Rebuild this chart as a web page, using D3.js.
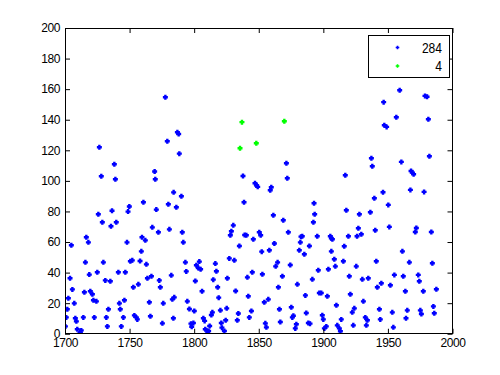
<!DOCTYPE html>
<html>
<head>
<meta charset="utf-8">
<script src="https://cdn.jsdelivr.net/npm/d3@7"></script>
<style>
  body { margin: 0; background: #fff; }
  text { font-family: "Liberation Sans", Arial, sans-serif; }
</style>
</head>
<body>
<div id="chart"></div>
<script>
// blue series (284 in legend)
const blueYear = [
  1726.6,1728.1,1738.2,1739.0,1777.7,1779.2,1769.4,1769.9,1787.0,1788.0,1788.5,
  1784.1,1736.4,1780.0,1748.8,1749.8,1760.7,1725.8,1728.9,1739.7,1735.6,1770.7,1780.8,1767.6,1772.3,1759.6,1762.2,1716.5,1718.1,1704.9,1748.0,1759.1,1750.6,1752.1,1758.1,1729.7,1715.8,1763.0,1703.9,1763.8,1766.9,1718.8,1725.0,1741.3,1746.7,1773.0,1773.8,1782.3,1731.2,1735.1,1705.7,1752.9,1756.8,1719.6,1721.2,1715.0,1722.0,1724.3,1702.6,1707.2,1701.8,1742.1,1742.8,1733.6,1746.0,1765.3,1776.1,1783.1,1784.6,1701.0,1708.0,1708.8,1714.2,1722.7,1732.0,1745.2,1753.7,1756.0,1755.2,1766.1,1783.9,1775.4,1700.3,1732.8,1743.6,1709.5,1712.6,1711.1,1711.9,
  1790.1,1786.2,1790.8,1791.6,1793.2,1793.9,1794.7,1796.3,1800.1,1797.5,1799.4,1798.1,1800.9,1801.7,1804.0,1803.2,1805.0,1806.1,1807.1,1808.1,1808.6,1810.5,1810.2,1812.0,1811.2,1813.3,1814.1,1814.8,1816.4,1817.2,1818.2,1819.0,1820.3,1821.0,1821.5,1823.4,1824.4,1825.2,1825.7,1827.2,1828.8,1828.0,1830.3,1831.1,1832.1,1834.2,1833.4,1835.0,1837.8,1838.6,1839.1,
  1847.1,1848.4,1849.2,1859.7,1858.9,1871.4,1872.1,1861.3,1869.0,1872.9,1882.7,1883.7,1892.8,1893.3,1892.3,1840.4,1845.8,1850.4,1851.5,1862.1,1882.2,1881.4,1885.3,1852.3,1858.2,1864.6,1863.1,1874.4,1845.0,1841.2,1852.8,1868.3,1865.2,1879.9,1891.5,1841.9,1854.3,1857.4,1886.1,1844.3,1842.7,1866.0,1875.2,1876.8,1876.0,1886.8,1855.1,1855.9,1866.7,1879.1,1878.3,1888.4,1889.7,
  1895.3,1889.2,1946.7,1947.2,1937.2,1937.9,1917.0,1946.2,1939.5,1917.8,1927.9,1936.4,1927.1,1926.1,1929.4,1940.2,1905.4,1906.2,1907.0,1919.4,1916.2,1906.2,1908.5,1915.5,1909.3,1903.9,1896.1,1925.5,1941.0,1920.1,1930.2,1934.8,1944.9,1941.8,1896.9,1898.4,1903.1,1920.9,1910.1,1931.0,1924.0,1922.4,1943.4,1899.2,1900.0,1913.9,1932.5,1934.1,1944.1,1902.3,1900.8,1910.8,1912.4,1913.2,1923.2,1933.3,
  1949.0,1959.1,1956.5,1978.7,1980.3,1981.3,1960.4,1967.9,1968.9,1969.9,1982.1,1967.4,1978.0,1950.3,1951.1,1972.0,1971.2,1983.6,1961.2,1966.6,1984.4,1955.0,1961.9,1973.5,1974.3,1951.9,1963.5,1977.4,1987.5,1953.4,1965.0,1975.1,1975.9,1985.2,1985.9,1964.0,1954.2
]
const blueValue = [
  122.0,103.0,110.9,101.1,154.7,125.9,106.1,101.1,131.8,130.7,117.8,
  92.5,80.5,84.7,79.9,83.2,86.0,78.2,72.9,72.9,70.3,81.2,68.3,69.6,66.4,63.1,61.1,63.1,59.8,57.9,59.8,53.9,47.4,48.0,47.6,46.7,46.7,45.4,36.3,36.3,37.6,38.7,40.2,40.2,40.2,34.9,30.4,38.2,34.9,34.3,29.0,30.4,32.3,27.8,25.8,27.1,21.9,21.2,23.2,19.9,16.0,19.9,16.0,16.0,21.9,20.6,19.9,22.5,23.8,10.7,10.1,8.1,10.7,10.7,10.7,10.7,12.0,9.4,10.7,11.4,10.1,6.8,4.8,4.8,4.8,2.9,2.2,0.0,0.9,
  89.9,82.7,66.4,59.8,46.7,40.8,21.2,16.2,14.9,6.6,7.0,4.6,34.5,44.8,47.2,43.0,42.2,27.8,10.1,8.4,2.9,1.4,0.0,5.1,1.8,12.3,14.0,35.4,45.9,40.9,30.4,23.6,15.3,7.0,4.0,1.8,8.8,16.6,36.3,49.3,67.0,64.4,70.9,48.0,28.0,13.2,8.8,57.4,103.2,86.0,64.6,
  98.4,97.0,96.1,95.8,93.9,111.5,101.7,77.5,74.2,66.4,63.5,63.8,85.4,78.2,72.9,64.4,61.8,66.4,64.4,59.0,59.8,54.6,52.0,53.7,54.6,46.7,44.1,45.0,40.2,36.9,38.9,37.6,30.4,32.3,35.6,24.5,20.6,22.5,25.1,14.9,10.7,16.0,17.3,11.8,10.7,13.6,6.8,4.2,7.7,6.2,3.5,7.0,6.6,
  63.8,57.4,151.5,136.4,114.8,109.6,103.7,92.6,88.6,80.8,78.2,79.5,69.0,63.8,65.1,67.7,63.8,62.4,61.8,63.8,57.2,53.9,48.7,47.4,44.1,42.2,41.5,44.1,47.4,37.6,35.6,36.3,33.0,30.4,26.7,26.7,24.5,25.8,18.6,21.2,16.6,14.0,16.0,12.1,9.4,9.4,10.7,8.8,9.4,4.8,3.5,5.5,3.5,1.6,5.5,5.5,
  135.3,159.3,141.6,155.6,155.0,140.3,112.4,106.5,105.4,104.3,116.1,94.1,92.8,84.3,69.9,69.2,66.6,66.6,53.9,46.7,46.1,38.5,37.6,38.5,34.3,31.7,27.8,27.8,29.1,14.0,15.3,15.3,12.9,17.9,13.4,10.1,4.2
]
// green series (4 in legend)
const greenYear = [1837.0, 1835.5, 1848.1, 1869.8]
const greenValue = [138.4, 121.3, 124.6, 139.0]

const legendLabels = ['284', '4']
const seriesColors = ['#0000ff', '#00ff00']
const xTicks = [1700, 1750, 1800, 1850, 1900, 1950, 2000]
const yTicks = [0, 20, 40, 60, 80, 100, 120, 140, 160, 180, 200]

const W = 500, H = 375
const margin = {left: 65, right: 47.5, top: 28, bottom: 41.25}
const plotW = W - margin.left - margin.right
const plotH = H - margin.top - margin.bottom

const svg = d3.select('#chart').append('svg')
    .attr('width', W)
    .attr('height', H)

svg.append('rect').attr('width', W).attr('height', H).attr('fill', '#fff')

const x = d3.scaleLinear().domain([1700, 2000]).range([0, plotW])
const y = d3.scaleLinear().domain([0, 200]).range([plotH, 0])

const g = svg.append('g').attr('transform', `translate(${margin.left},${margin.top})`)

// clip to axes box
g.append('clipPath').attr('id', 'clip')
    .append('rect').attr('width', plotW).attr('height', plotH)

// marker: small plus-like blob
const marker = 'M-2.5,-1.2H-1.2V-2.5H1.2V-1.2H2.5V1.2H1.2V2.5H-1.2V1.2H-2.5Z'

const blue = blueYear.map((d, i) => ({year: d, value: blueValue[i]}))
const green = greenYear.map((d, i) => ({year: d, value: greenValue[i]}))

const pts = g.append('g').attr('clip-path', 'url(#clip)')
pts.selectAll('.blue')
    .data(blue)
    .join('path')
    .attr('class', 'blue')
    .attr('d', marker)
    .attr('fill', seriesColors[0])
    .attr('transform', d => `translate(${x(d.year)},${y(d.value)})`)
pts.selectAll('.green')
    .data(green)
    .join('path')
    .attr('class', 'green')
    .attr('d', marker)
    .attr('fill', seriesColors[1])
    .attr('transform', d => `translate(${x(d.year)},${y(d.value)})`)

// axes with inward ticks on all four sides
const tk = 5
const styleAxis = sel => {
    sel.select('.domain').remove()
    sel.selectAll('line').attr('stroke', '#000')
    sel.selectAll('text')
        .attr('fill', '#000')
        .style('font-size', '12px')
        .style('letter-spacing', '-0.4px')
}
g.append('g')
    .attr('transform', `translate(0,${plotH})`)
    .call(d3.axisBottom(x).tickValues(xTicks).tickFormat(d3.format('d')).tickSizeInner(-tk).tickPadding(4.5))
    .call(styleAxis)
g.append('g')
    .call(d3.axisTop(x).tickValues(xTicks).tickFormat('').tickSizeInner(-tk))
    .call(styleAxis)
g.append('g')
    .call(d3.axisLeft(y).tickValues(yTicks).tickSizeInner(-tk).tickPadding(5))
    .call(styleAxis)
g.append('g')
    .attr('transform', `translate(${plotW},0)`)
    .call(d3.axisRight(y).tickValues(yTicks).tickFormat('').tickSizeInner(-tk))
    .call(styleAxis)

g.append('rect')
    .attr('width', plotW).attr('height', plotH)
    .attr('fill', 'none').attr('stroke', '#000').attr('stroke-width', 1)
    .attr('shape-rendering', 'crispEdges')

// legend
const lg = svg.append('g').attr('transform', 'translate(368.5,35.5)')
lg.append('rect')
    .attr('width', 81).attr('height', 42)
    .attr('fill', '#fff').attr('stroke', '#000')
const rows = lg.selectAll('.row')
    .data(legendLabels)
    .join('g')
    .attr('transform', (d, i) => `translate(0,${12 + i * 18.5})`)
rows.append('path')
    .attr('d', 'M-1.8,-0.8H-0.8V-1.8H0.8V-0.8H1.8V0.8H0.8V1.8H-0.8V0.8H-1.8Z')
    .attr('transform', 'translate(29,0)')
    .attr('fill', (d, i) => seriesColors[i])
rows.append('text')
    .attr('x', 73.5)
    .attr('dy', '0.36em')
    .attr('text-anchor', 'end')
    .style('font-size', '14px')
    .attr('textLength', d => d.length * 6.7)
    .attr('lengthAdjust', 'spacingAndGlyphs')
    .text(d => d)
</script>
</body>
</html>
